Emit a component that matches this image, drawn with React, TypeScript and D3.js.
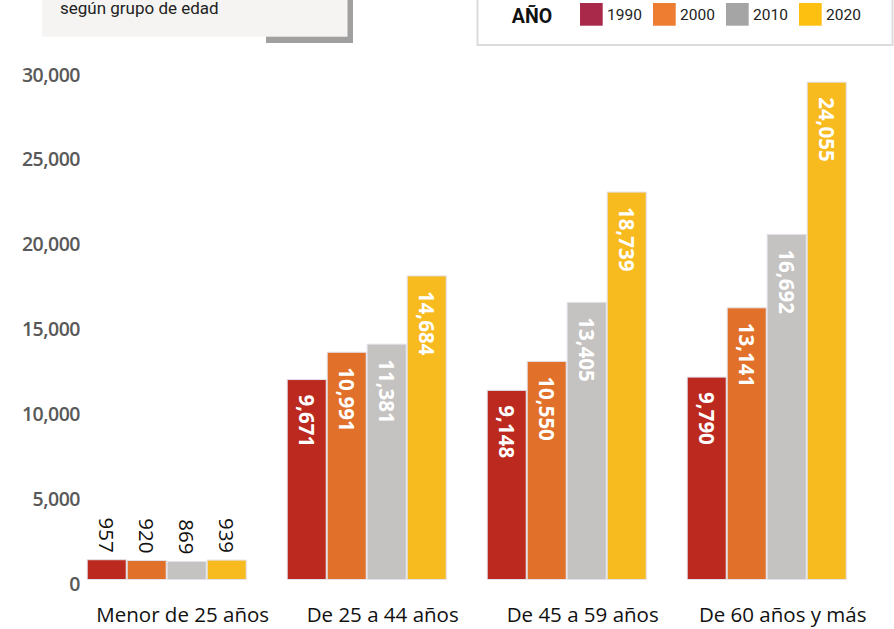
import React from 'react';
import * as d3 from 'd3';

const categories = ['Menor de 25 años', 'De 25 a 44 años', 'De 45 a 59 años', 'De 60 años y más'];
const years = ['1990', '2000', '2010', '2020'];
const values1990 = [957, 9671, 9148, 9790];
const values2000 = [920, 10991, 10550, 13141];
const values2010 = [869, 11381, 13405, 16692];
const values2020 = [939, 14684, 18739, 24055];
const axisTicks = [0, 5000, 10000, 15000, 20000, 25000, 30000];

const barColors = ['#bc2a1f', '#e1712a', '#c5c3c1', '#f7ba1f'];
const legendColors = ['#a8294a', '#ee7d31', '#a5a5a5', '#fdc010'];

const W = 894;
const H = 629;

export default function App() {
  const series = [values1990, values2000, values2010, values2020];

  const x0 = d3.scaleBand<string>().domain(categories).range([66.7, 866.7]).paddingInner(0.2).paddingOuter(0.1);
  const x1 = d3.scaleBand<string>().domain(years).range([0, x0.bandwidth()]);
  // bars are drawn taller than the printed axis, as in the source graphic
  const yBar = d3.scaleLinear().domain([0, 24450]).range([579.5, 74]);
  const yAxis = d3.scaleLinear().domain([0, 30000]).range([583, 74]);
  const fmt = d3.format(',');

  return (
    <div style={{ position: 'fixed', left: 0, top: 0 }}>
      <svg width={W} height={H} style={{ display: 'block', background: '#fff' }}>
        {/* title box */}
        <rect x={266} y={-10} width={87} height={53} fill="#a0a0a0" />
        <rect x={42} y={-10} width={305.5} height={46.7} fill="#f5f4f2" />
        <text x={60} y={13.5} fontFamily="Roboto" fontSize={17} fill="#222">según grupo de edad</text>

        {/* legend */}
        <rect x={477.5} y={-10} width={415} height={55} fill="#fff" stroke="#dcdcdc" strokeWidth={2} />
        <text x={532} y={16} textAnchor="middle" dominantBaseline="central" fontFamily="Roboto" fontWeight={700} fontSize={19.5} fill="#111">AÑO</text>
        {years.map((yr, i) => {
          const lx = d3.scaleLinear().domain([0, 3]).range([580, 799])(i);
          return (
            <g key={yr}>
              <rect x={lx} y={3} width={22.7} height={22.7} fill={legendColors[i]} />
              <text x={lx + 27} y={15} dominantBaseline="central" fontFamily="Roboto" fontSize={15.5} fill="#222">{yr}</text>
            </g>
          );
        })}

        {/* y axis labels */}
        {axisTicks.map(t => (
          <text key={t} x={80} y={yAxis(t)} textAnchor="end" dominantBaseline="central"
            fontFamily="Open Sans" fontWeight={600} fontSize={19.5} fill="#595959" letterSpacing={-0.5}>
            {fmt(t)}
          </text>
        ))}

        {/* bars */}
        {categories.map((c, ci) => (
          <g key={c} transform={`translate(${x0(c)},0)`}>
            {years.map((yr, yi) => {
              const v = series[yi][ci];
              const bx = x1(yr)!;
              const top = yBar(v);
              const cx = bx + x1.bandwidth() / 2;
              const inside = v > 5000;
              return (
                <g key={yr}>
                  <rect x={bx + 0.5} y={top} width={x1.bandwidth() - 1} height={yBar(0) - top}
                    fill={barColors[yi]} stroke="#e2e2ec" strokeWidth={1} />
                  <text transform={`translate(${cx},${inside ? top + 15 : top - 7}) rotate(90)`}
                    textAnchor={inside ? 'start' : 'end'} dominantBaseline="central"
                    fontFamily="Open Sans" fontWeight={inside ? 700 : 400} fontSize={20.5}
                    fill={inside ? '#fff' : '#111'}>
                    {fmt(v)}
                  </text>
                </g>
              );
            })}
          </g>
        ))}

        {/* category labels */}
        {categories.map(c => (
          <text key={c} x={x0(c)! + x0.bandwidth() / 2 + 16} y={622} textAnchor="middle"
            fontFamily="Open Sans" fontSize={20.5} fill="#111">
            {c}
          </text>
        ))}
      </svg>
    </div>
  );
}
